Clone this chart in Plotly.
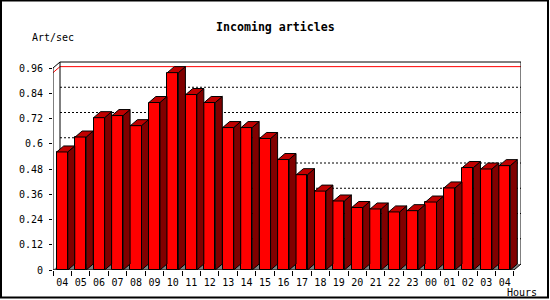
import plotly.graph_objects as go

# ---- data ----
hours = ["04", "05", "06", "07", "08", "09", "10", "11", "12", "13", "14", "15", "16",
         "17", "18", "19", "20", "21", "22", "23", "00", "01", "02", "03", "04"]
values = [0.561, 0.632, 0.724, 0.734, 0.686, 0.796, 0.938, 0.834, 0.796, 0.677, 0.677, 0.625,
          0.525, 0.453, 0.375, 0.328, 0.297, 0.290, 0.276, 0.282, 0.323, 0.390, 0.487, 0.480, 0.496]
y_ticks = [0, 0.12, 0.24, 0.36, 0.48, 0.6, 0.72, 0.84, 0.96]
y_ticktext = ["0", "0.12", "0.24", "0.36", "0.48", "0.6", "0.72", "0.84", "0.96"]
title = "Incoming articles"
y_title = "Art/sec"
x_title = "Hours"

# ---- geometry ----
W, H = 550, 300
ML, MR, MT, MB = 53, 29, 61, 30
PW, PH = W - ML - MR, H - MT - MB
n = len(values)
DX = 0.38        # 3D depth in category units
YMAX = 0.9933
DY = 6 * YMAX / PH  # 3D depth in value units (~6px)
BW = 0.6
ytop = y_ticks[-1]

def px2x(px):
    return (px - ML) / PW

def px2y(py):
    return (H - MB - py) / PH

xs = list(range(n))
fig = go.Figure()

# front faces
fig.add_trace(go.Bar(x=xs, y=values, width=BW,
                     marker=dict(color="#ff0000", line=dict(color="black", width=1)),
                     hoverinfo="skip"))

# side and top faces
sx, sy, tx, ty = [], [], [], []
for i, v in enumerate(values):
    r = i + BW / 2
    l = i - BW / 2
    sx += [r, r + DX, r + DX, r, r, None]
    sy += [0, DY, v + DY, v, 0, None]
    tx += [l, r, r + DX, l + DX, l, None]
    ty += [v, v, v + DY, v + DY, v, None]
fig.add_trace(go.Scatter(x=sx, y=sy, mode="lines", fill="toself", fillcolor="#800000",
                         line=dict(color="black", width=1), hoverinfo="skip"))
fig.add_trace(go.Scatter(x=tx, y=ty, mode="lines", fill="toself", fillcolor="#c00000",
                         line=dict(color="black", width=1), hoverinfo="skip"))

x0, x1 = -0.5, n - 0.5
shapes = []
# floor
shapes.append(dict(type="path", layer="below", line=dict(width=0), fillcolor="#808080",
                   path=f"M {x0},0 L {x1},0 L {x1+DX},{DY} L {x0+DX},{DY} Z"))
# gridlines on back wall
for t in y_ticks[1:-1]:
    shapes.append(dict(type="line", layer="below", x0=x0 + DX, x1=x1 + DX, y0=t + DY, y1=t + DY,
                       line=dict(color="black", width=1, dash="2px,2px")))
# max line (red)
vmax = max(values)
shapes.append(dict(type="line", layer="below", x0=x0, y0=vmax, x1=x0 + DX, y1=vmax + DY,
                   line=dict(color="#ff0000", width=1)))
shapes.append(dict(type="line", layer="below", x0=x0 + DX, x1=x1 + DX, y0=vmax + DY, y1=vmax + DY,
                   line=dict(color="#ff0000", width=1)))
# back wall left edge
shapes.append(dict(type="line", layer="below", x0=x0 + DX, x1=x0 + DX, y0=DY, y1=ytop + DY,
                   line=dict(color="black", width=1)))
# frame (above)
frame_pts = [(x1, 0), (x0, 0), (x0, ytop), (x0 + DX, ytop + DY), (x1 + DX, ytop + DY),
             (x1 + DX, DY), (x1, 0)]
path = "M " + " L ".join(f"{a},{b}" for a, b in frame_pts)
shapes.append(dict(type="path", layer="above", path=path, line=dict(color="black", width=1)))
# outer image border
shapes.append(dict(type="rect", xref="paper", yref="paper", layer="above",
                   x0=px2x(1), x1=px2x(548), y0=px2y(297.5), y1=px2y(0.5),
                   line=dict(color="black", width=2)))

mono = "DejaVu Sans Mono"
annotations = [
    dict(text=f"<b>{title}</b>", xref="paper", yref="paper", x=px2x(275), y=px2y(27),
         xanchor="center", yanchor="middle", showarrow=False,
         font=dict(family=mono, size=11.6, color="black")),
    dict(text=y_title, xref="paper", yref="paper", x=px2x(30), y=px2y(37.5),
         xanchor="left", yanchor="middle", showarrow=False,
         font=dict(family=mono, size=10, color="black")),
    dict(text=x_title, xref="paper", yref="paper", x=px2x(505), y=px2y(292),
         xanchor="left", yanchor="middle", showarrow=False,
         font=dict(family=mono, size=10, color="black")),
]

fig.update_layout(
    width=W, height=H, margin=dict(l=ML, r=MR, t=MT, b=MB, pad=0),
    paper_bgcolor="white", plot_bgcolor="white", showlegend=False,
    shapes=shapes, annotations=annotations, bargap=0,
    xaxis=dict(range=[x0, x1 + DX], tickmode="array", tickvals=xs, ticktext=hours,
               ticks="", showgrid=False, zeroline=False, showline=False,
               ticklabelstandoff=5,
               tickfont=dict(family=mono, size=10, color="black"),
               minor=dict(tickmode="array", tickvals=[i - 0.5 for i in range(n + 1)],
                          ticks="outside", ticklen=5, tickcolor="black", tickwidth=1,
                          showgrid=False),
               fixedrange=True),
    yaxis=dict(range=[0, YMAX], tickmode="array", tickvals=y_ticks, ticktext=y_ticktext,
               ticks="outside", ticklen=3, tickcolor="black", tickwidth=1,
               showgrid=False, zeroline=False, showline=False,
               ticklabelstandoff=4,
               tickfont=dict(family=mono, size=10, color="black"),
               fixedrange=True),
)

fig.write_html("out.html")
